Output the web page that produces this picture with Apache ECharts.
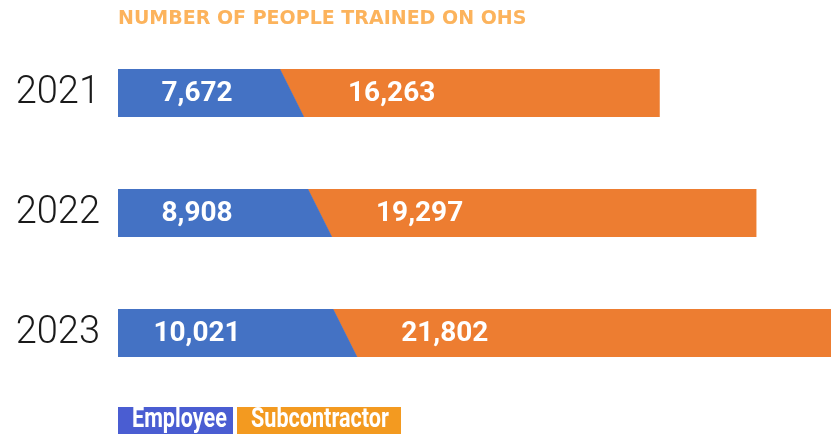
<!DOCTYPE html>
<html>
<head>
<meta charset="utf-8">
<script src="https://cdn.jsdelivr.net/npm/echarts@6/dist/echarts.min.js"></script>
<style>
  html, body { margin: 0; padding: 0; background: #ffffff; }
  #chart { width: 831px; height: 434px; }
</style>
</head>
<body>
<div id="chart"></div>
<script>
// OHS training headcount per year, split by worker type
const years = ['2021', '2022', '2023'];
const seriesNames = ['Employee', 'Subcontractor'];
const employee = [7672, 8908, 10021];
const subcontractor = [16263, 19297, 21802];
const titleText = 'NUMBER OF PEOPLE TRAINED ON OHS';

const BLUE = '#4472c4';
const ORANGE = '#ed7d31';
const SLANT = 12;       // half of the diagonal step between the two segments
const BAR_H = 48;

const fmt = v => v.toLocaleString('en-US');

const chart = echarts.init(document.getElementById('chart'), null, { renderer: 'canvas' });

const rows = years.map((y, i) => [i, employee[i], subcontractor[i]]);

function renderItem(params, api) {
  const cat = api.value(0);
  const emp = api.value(1);
  const sub = api.value(2);
  const p0 = api.coord([0, cat]);
  const p1 = api.coord([emp, cat]);
  const p2 = api.coord([emp + sub, cat]);
  const top = p0[1] - BAR_H / 2;
  const bot = p0[1] + BAR_H / 2;
  const labelFont = 'bold 28px Roboto, "DejaVu Sans", sans-serif';
  return {
    type: 'group',
    children: [
      {
        type: 'polygon',
        shape: { points: [[p1[0] - SLANT, top], [p2[0], top], [p2[0], bot], [p1[0] + SLANT, bot]] },
        style: { fill: ORANGE }
      },
      {
        type: 'polygon',
        shape: { points: [[p0[0], top], [p1[0] - SLANT + 0.5, top], [p1[0] + SLANT + 0.5, bot], [p0[0], bot]] },
        style: { fill: BLUE }
      },
      {
        type: 'text',
        style: {
          text: fmt(emp), x: p0[0] + 79, y: p0[1] + 1,
          align: 'center', verticalAlign: 'middle',
          font: labelFont, fill: '#ffffff'
        }
      },
      {
        type: 'text',
        style: {
          text: fmt(sub), x: p1[0] + 100, y: p0[1] + 1,
          align: 'center', verticalAlign: 'middle',
          font: labelFont, fill: '#ffffff'
        }
      }
    ]
  };
}

// legend chips under the bars
const chipColors = ['#4a5dd2', '#f39a20'];
const chipX = [118, 237];
const chipW = [115, 164];
const legendGraphics = [];
seriesNames.forEach((name, i) => {
  legendGraphics.push({
    type: 'rect', x: chipX[i], y: 407,
    shape: { width: chipW[i], height: 27 },
    style: { fill: chipColors[i] }
  });
  legendGraphics.push({
    type: 'text', x: chipX[i] + 14, y: 420, scaleX: 0.8,
    style: {
      text: name, fill: '#ffffff', verticalAlign: 'middle',
      font: 'bold 27px Roboto, "DejaVu Sans", sans-serif'
    }
  });
});

chart.setOption({
  animation: false,
  title: {
    text: titleText,
    left: 118, top: 10, padding: 0,
    textStyle: {
      color: '#fcb35c', fontSize: 19, fontWeight: 'bold',
      fontFamily: '"DejaVu Sans", Roboto, sans-serif'
    }
  },
  grid: { left: 118, right: 0, top: 33, bottom: 41, containLabel: false },
  xAxis: {
    type: 'value', min: 0, max: 31500, show: false
  },
  yAxis: {
    type: 'category', data: years, inverse: true,
    axisLine: { show: false }, axisTick: { show: false }, splitLine: { show: false },
    axisLabel: {
      margin: 18, color: '#1a1a1a', fontSize: 38, fontWeight: 300,
      fontFamily: 'Roboto, "DejaVu Sans", sans-serif'
    }
  },
  series: [{
    type: 'custom',
    name: 'OHS training',
    renderItem: renderItem,
    encode: { y: 0, x: [1, 2] },
    data: rows,
    clip: false
  }],
  graphic: legendGraphics
});
</script>
</body>
</html>
